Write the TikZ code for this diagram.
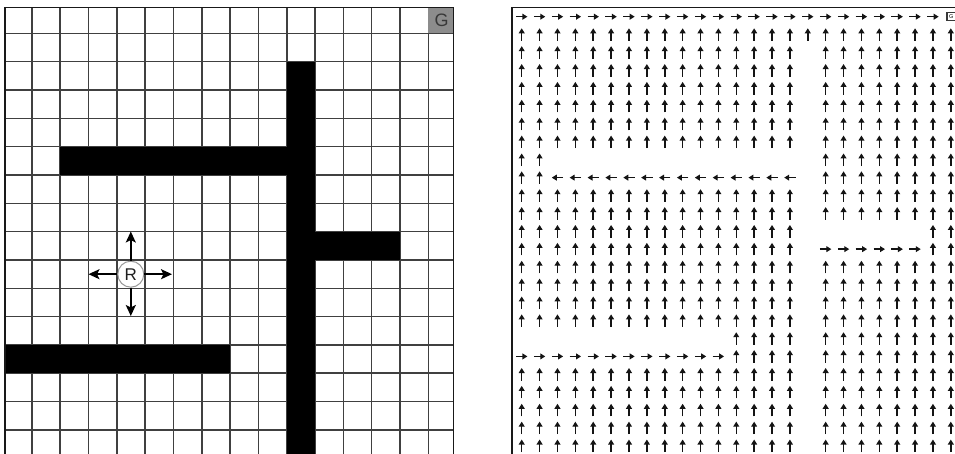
\documentclass[tikz,border=0pt]{standalone}
\usepackage{fontspec}
\setmainfont{Liberation Sans}
\usetikzlibrary{arrows.meta}
\tikzset{
  gridline/.style={line width=1.6pt, black!75},
  frameline/.style={line width=1.5pt, black!90},
  wall/.style={fill=black},
  fa/.style={line width=1.5pt, black!92, -{Triangle[length=5pt,width=5.8pt]}},
  bigarrow/.style={line width=1.8pt, black, -{Stealth[length=11pt,width=10pt,inset=2.5pt]}},
  robotstyle/.style={circle, draw=black!40, fill=white, line width=1pt, minimum size=26pt, inner sep=0pt, font=\fontsize{17}{17}\selectfont, text=black!88},
}
\newcommand{\fldup}[2]{\draw[fa] ({521.7+17.88*#1},{23.0+17.88*#2}) -- ({521.7+17.88*#1},{10.4+17.88*#2});}
\newcommand{\fldrt}[2]{\draw[fa] ({516.0+17.88*#1},{16.7+17.88*#2}) -- ({527.4+17.88*#1},{16.7+17.88*#2});}
\newcommand{\fldlt}[2]{\draw[fa] ({527.4+17.88*#1},{16.7+17.88*#2}) -- ({516.0+17.88*#1},{16.7+17.88*#2});}
\begin{document}
\begin{tikzpicture}[x=1pt,y=-1pt]
\useasboundingbox (0,0) rectangle (955,454);
\clip (0,0) rectangle (955,454);
\fill[white] (0,0) rectangle (955,454);
% ---------- left panel: grid world ----------
\foreach \k in {1,...,15} {
  \draw[gridline] ({3.4+28.33*\k},7.3) -- ({3.4+28.33*\k},456);
  \draw[gridline] (5,{5+28.33*\k}) -- (453.3,{5+28.33*\k});
}
\fill[black!45] (428.4,7.3) rectangle (453.3,33.33);
\node[font=\fontsize{18}{18}\selectfont, text=black!78] (goal) at (441.6,20.6) {G};
\fill[wall] (60.06,146.65) rectangle (286.7,174.98);
\fill[wall] (286.7,61.66) rectangle (315.0,456);
\fill[wall] (315.0,231.6) rectangle (400.0,260.0);
\fill[wall] (4.4,345.0) rectangle (230.0,373.3);
\draw[frameline] (5,456) -- (5,7.3) -- (453.3,7.3) -- (453.3,456);
% robot
\node[robotstyle] (robot) at (130.8,274.2) {R};
\coordinate (rU) at (130.8,231.5);
\coordinate (rD) at (130.8,316.0);
\coordinate (rL) at (88.5,274.2);
\coordinate (rR) at (172.0,274.2);
\draw[bigarrow] (robot.north) -- (rU);
\draw[bigarrow] (robot.south) -- (rD);
\draw[bigarrow] (robot.west) -- (rL);
\draw[bigarrow] (robot.east) -- (rR);
% ---------- right panel: policy field ----------
\draw[frameline] (512,456) -- (512,7.3) -- (957,7.3);
\foreach \c in {0,...,23} {\fldrt{\c}{0}}
\node[draw=black!78, line width=1.1pt, minimum size=8.5pt, inner sep=0pt, font=\fontsize{5.5}{5.5}\selectfont] (goalR) at (951.2,16.7) {G};
\foreach \c in {0,...,24} {\fldup{\c}{1}}
\foreach \r in {2,...,7} {\foreach \c in {0,...,15,17,18,...,24} {\fldup{\c}{\r}}}
\foreach \c in {0,1,17,18,...,24} {\fldup{\c}{8}}
\foreach \c in {0,1,17,18,...,24} {\fldup{\c}{9}}
\foreach \c in {2,...,15} {\fldlt{\c}{9}}
\foreach \r in {10,11} {\foreach \c in {0,...,15,17,18,...,24} {\fldup{\c}{\r}}}
\foreach \r in {12,13} {\foreach \c in {0,...,15,23,24} {\fldup{\c}{\r}}}
\foreach \c in {17,...,22} {\fldrt{\c}{13}}
\foreach \r in {14,...,17} {\foreach \c in {0,...,15,17,18,...,24} {\fldup{\c}{\r}}}
\foreach \c in {12,...,15,17,18,...,24} {\fldup{\c}{18}}
\foreach \c in {0,...,11} {\fldrt{\c}{19}}
\foreach \c in {12,...,15,17,18,...,24} {\fldup{\c}{19}}
\foreach \r in {20,...,24} {\foreach \c in {0,...,15,17,18,...,24} {\fldup{\c}{\r}}}
\end{tikzpicture}
\end{document}
